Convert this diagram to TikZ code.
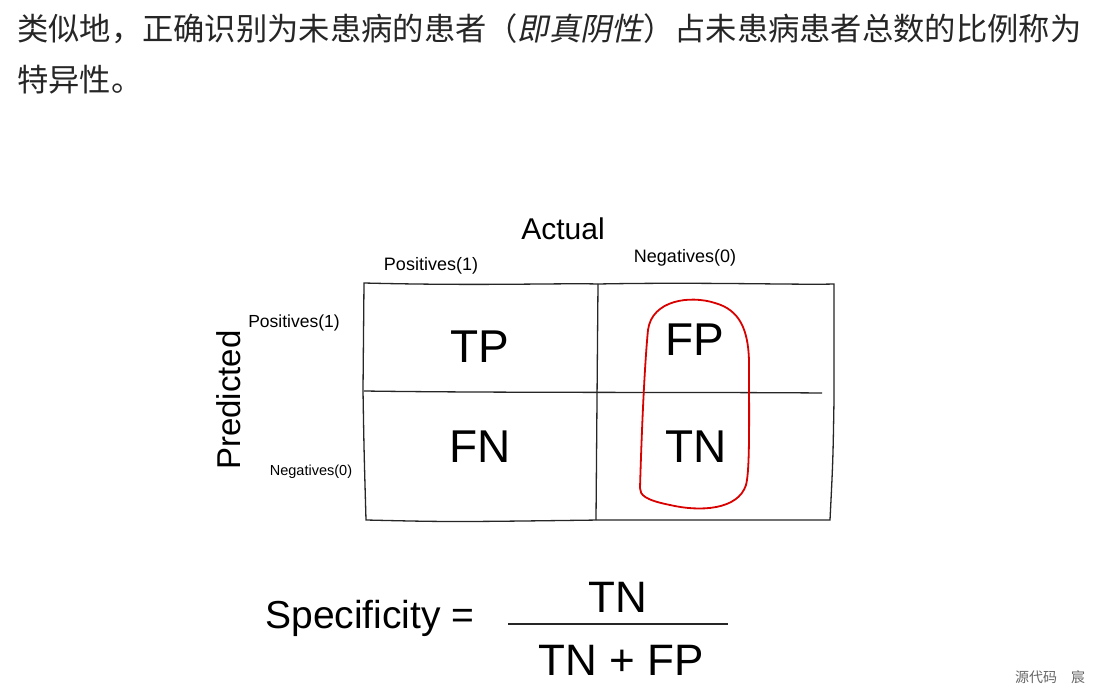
\documentclass[tikz,border=0pt]{standalone}
\usepackage{fontspec}
\setmainfont{Liberation Sans}
\newfontfamily\cjk{Noto Sans CJK SC}
\newfontfamily\cjkit[FakeSlant=0.2]{Noto Sans CJK SC}
\begin{document}
\begin{tikzpicture}[x=1pt,y=-1pt,
  lbl/.style={inner sep=0pt},
  cell/.style={inner sep=0pt,font=\fontsize{46}{46}\selectfont},
  grid/.style={draw=black!85,line width=1.3pt}]
\useasboundingbox[fill=white] (0,0) rectangle (1104,695);
\node[lbl,anchor=west,text=black!85,font=\cjk\fontsize{31.3}{32}\selectfont] (l1) at (17,29) {类似地，正确识别为未患病的患者（{\cjkit 即真阴性}）占未患病患者总数的比例称为};
\node[lbl,anchor=west,text=black!85,font=\cjk\fontsize{31.3}{32}\selectfont] (l2) at (17,80) {特异性。};
% grid
\draw[grid] (364,283) .. controls (480,286) and (560,283) .. (598,284) .. controls (700,282) and (800,285) .. (834,284)
  -- (834,400) .. controls (833,460) .. (830,520) -- (600,520) .. controls (450,522) .. (366,520) .. controls (364,450) .. (363,390) -- cycle;
\draw[grid] (598,284) .. controls (597,400) .. (596,520);
\draw[grid] (364,391) .. controls (500,393) and (700,392) .. (822,393);
\node[lbl,font=\fontsize{30}{30}\selectfont] (act) at (563,229) {Actual};
\node[lbl,font=\fontsize{18}{18}\selectfont] (cp) at (431,266) {Positives(1)};
\node[lbl,font=\fontsize{18}{18}\selectfont] (cn) at (685,258) {Negatives(0)};
\node[lbl,font=\fontsize{17.5}{18}\selectfont] (rp) at (294,323) {Positives(1)};
\node[lbl,font=\fontsize{14.5}{15}\selectfont] (rn) at (311,472) {Negatives(0)};
\node[lbl,rotate=90,font=\fontsize{33}{33}\selectfont] (pred) at (229,400) {Predicted};
\node[cell] (tp) at (480,347) {TP};
\node[cell] (fp) at (695,340) {FP};
\node[cell] (fn) at (480,447) {FN};
\node[cell] (tn) at (696,447) {TN};
\draw[red!85!black,line width=1.8pt] (640,488) .. controls (642,420) and (645,360) .. (648,330)
  .. controls (652,300) and (690,295) .. (715,303) .. controls (740,310) and (748,330) .. (749,360)
  .. controls (749,420) and (750,470) .. (746,485) .. controls (738,510) and (700,512) .. (670,505)
  .. controls (645,500) and (640,495) .. (640,488);
\node[lbl,font=\fontsize{39}{39}\selectfont] (spec) at (370,618) {Specificity =};
\node[lbl,font=\fontsize{44}{44}\selectfont] (num) at (618,597) {TN};
\node[lbl,font=\fontsize{44}{44}\selectfont] (den) at (621,660) {TN + FP};
\coordinate (fa) at (508,624); \coordinate (fb) at (728,624);
\draw[line width=1.3pt,black!85] (fa) -- (fb);
\node[lbl,text=black!60,font=\cjk\fontsize{14}{14}\selectfont] (wm) at (1050,677) {源代码\quad 宸};
\end{tikzpicture}
\end{document}
